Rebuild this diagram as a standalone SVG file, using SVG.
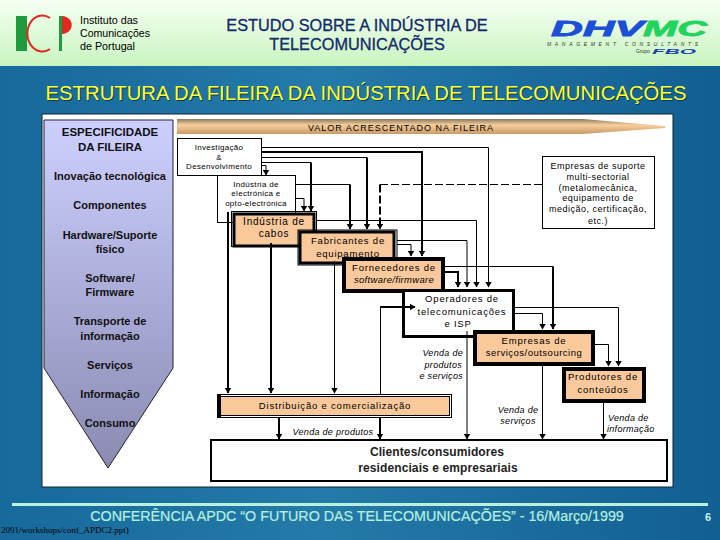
<svg xmlns="http://www.w3.org/2000/svg" width="720" height="540" viewBox="0 0 720 540">
<defs>
<linearGradient id="bg" x1="0" y1="0" x2="1" y2="0"><stop offset="0" stop-color="#176a9c"/><stop offset=".45" stop-color="#247aa8"/><stop offset="1" stop-color="#125f92"/></linearGradient>
<linearGradient id="hd" x1="0" y1="0" x2="0" y2="1"><stop offset="0" stop-color="#f6fff2"/><stop offset="1" stop-color="#c8f4c0"/></linearGradient>
<linearGradient id="sh" x1="0" y1="0" x2="0" y2="1"><stop offset="0" stop-color="#cdd0ff"/><stop offset="1" stop-color="#8a8ab2"/></linearGradient>
<linearGradient id="ban" x1="0" y1="0" x2="0" y2="1"><stop offset="0" stop-color="#8a7a60"/><stop offset=".4" stop-color="#f8cf9c"/><stop offset="1" stop-color="#c89a68"/></linearGradient>
<marker id="a" markerUnits="userSpaceOnUse" markerWidth="6" markerHeight="7" refX="5.500" refY="3.500" orient="auto"><path d="M0 0L6 3.500L0 7Z" fill="#000"/></marker>
</defs>
<style>
text{font-family:"Liberation Sans",Arial,sans-serif;fill:#000;text-anchor:middle}
.l{font-size:11px;font-weight:bold;fill:#111}
.s{font-size:8px;letter-spacing:.3px}
.m{font-size:9.5px;letter-spacing:.8px}
.i{font-size:9px;font-style:italic;letter-spacing:.3px}
.t{fill:none;stroke:#000;stroke-width:1}
.k{fill:none;stroke:#000;stroke-width:2}
.ta{fill:none;stroke:#000;stroke-width:1;marker-end:url(#a)}
.ka{fill:none;stroke:#000;stroke-width:2;marker-end:url(#a)}
.or{fill:#fac99b;stroke:#000}
.wh{fill:#fff;stroke:#000}
</style>
<rect width="720" height="540" fill="url(#bg)"/>
<rect width="720" height="66" fill="url(#hd)"/>

<g id="logo-icp">
<rect x="16" y="16" width="11" height="35" fill="#1f9a3c"/>
<path d="M50 18A15 18 0 1 0 50 49" fill="none" stroke="#e02a20" stroke-width="2"/>
<rect x="59" y="16" width="3" height="35" fill="#1f9a3c"/>
<path d="M62 16C75 17 75 33 62 34Z" fill="#e02a20"/>
<text x="80" y="24" font-size="11.5" textLength="58" lengthAdjust="spacingAndGlyphs" style="text-anchor:start" fill="#222">Instituto das</text>
<text x="80" y="37" font-size="11.5" textLength="70" lengthAdjust="spacingAndGlyphs" style="text-anchor:start" fill="#222">Comunicações</text>
<text x="80" y="50" font-size="11.5" textLength="55" lengthAdjust="spacingAndGlyphs" style="text-anchor:start" fill="#222">de Portugal</text>
</g>
<g id="header-title">
<text x="357" y="31" font-size="16.300" style="fill:#14296a;stroke:#14296a;stroke-width:.3">ESTUDO SOBRE A INDÚSTRIA DE</text>
<text x="357" y="50" font-size="16.300" style="fill:#14296a;stroke:#14296a;stroke-width:.3">TELECOMUNICAÇÕES</text>
</g>
<g id="logo-dhvmc">
<text x="551" y="36" font-size="22" font-weight="bold" font-style="italic" textLength="93" lengthAdjust="spacingAndGlyphs" style="text-anchor:start;fill:#1a4fd6;stroke:#1a4fd6;stroke-width:.8">DHV</text>
<text x="643" y="36" font-size="22" font-weight="bold" font-style="italic" textLength="64" lengthAdjust="spacingAndGlyphs" style="text-anchor:start;fill:#22d45c;stroke:#22d45c;stroke-width:.8">MC</text>
<text x="547" y="45.500" font-size="5" font-style="italic" textLength="151" style="text-anchor:start;fill:#333">MANAGEMENT CONSULTANTS</text>
<text x="636" y="53" font-size="5" style="text-anchor:start;fill:#333">Grupo</text>
<text x="652" y="54" font-size="7" font-weight="bold" font-style="italic" textLength="44" lengthAdjust="spacingAndGlyphs" style="text-anchor:start;fill:#1a3fb0">FBO</text>
</g>
<text x="366" y="100" font-size="20.300" style="fill:#0a3a50" transform="translate(1,1)">ESTRUTURA DA FILEIRA DA INDÚSTRIA DE TELECOMUNICAÇÕES</text>
<text x="366" y="100" font-size="20.300" style="fill:#ffff30">ESTRUTURA DA FILEIRA DA INDÚSTRIA DE TELECOMUNICAÇÕES</text>

<rect x="42" y="114" width="631" height="373" fill="#fff" stroke="#123" stroke-width="1"/>

<g id="specificity">
<path d="M44 120H173V368L108 468L44 368Z" fill="url(#sh)" stroke="#223" stroke-width="1"/>
<text class="l" x="110" y="136" style="font-size:11.5px">ESPECIFICIDADE</text>
<text class="l" x="110" y="151" style="font-size:11.5px">DA FILEIRA</text>
<text class="l" x="110" y="180">Inovação tecnológica</text>
<text class="l" x="110" y="209">Componentes</text>
<text class="l" x="110" y="239">Hardware/Suporte</text>
<text class="l" x="110" y="253">físico</text>
<text class="l" x="110" y="282">Software/</text>
<text class="l" x="110" y="296">Firmware</text>
<text class="l" x="110" y="325">Transporte de</text>
<text class="l" x="110" y="340">informação</text>
<text class="l" x="110" y="369">Serviços</text>
<text class="l" x="110" y="398">Informação</text>
<text class="l" x="110" y="427">Consumo</text>
</g>
<g id="value-banner">
<path d="M177 119H583L665 126V128L583 134H177Z" fill="url(#ban)"/>
<text x="401" y="131" font-size="9" style="letter-spacing:1px">VALOR ACRESCENTADO NA FILEIRA</text>
</g>

<g id="n-electronica">
<rect class="wh" x="217.500" y="175.500" width="78" height="47"/>
<text class="s" x="256" y="187">Indústria de</text>
<text class="s" x="256" y="196">electrónica e</text>
<text class="s" x="256" y="206">opto-electrónica</text>
</g>
<g id="n-id">
<rect class="wh" x="177.500" y="138.500" width="84" height="37"/>
<text class="s" x="219" y="150">Investigação</text>
<text class="s" x="219" y="160">&amp;</text>
<text class="s" x="219" y="169">Desenvolvimento</text>
</g>
<g id="n-cabos">
<rect x="231.500" y="211.500" width="85" height="35" fill="none" stroke="#000"/>
<rect class="or" x="234" y="214" width="80" height="32" stroke-width="3"/>
<text class="m" x="274" y="225" style="font-size:10px">Indústria de</text>
<text class="m" x="274" y="237" style="font-size:10px">cabos</text>
</g>
<g id="n-fabricantes">
<rect x="298" y="230" width="99" height="35" fill="none" stroke="#000"/>
<rect class="or" x="300" y="232" width="94" height="31" stroke-width="3"/>
<text class="m" x="348" y="244">Fabricantes de</text>
<text class="m" x="348" y="257">equipamento</text>
</g>
<g id="n-fornecedores">
<rect class="or" x="344" y="259" width="99" height="32" stroke-width="4"/>
<text class="m" x="394" y="271">Fornecedores de</text>
<text class="m" x="394" y="283" style="font-style:italic;letter-spacing:.3px">software/firmware</text>
</g>
<g id="n-operadores">
<rect class="wh" x="403.500" y="290.500" width="110" height="46" stroke-width="3"/>
<text class="m" x="462" y="302">Operadores de</text>
<text class="m" x="462" y="315">telecomunicações</text>
<text class="m" x="458" y="327">e ISP</text>
</g>
<g id="n-servicos">
<rect class="or" x="475" y="332" width="118" height="32" stroke-width="4"/>
<text class="m" x="534" y="344">Empresas de</text>
<text class="m" x="534" y="356" style="letter-spacing:.5px">serviços/outsourcing</text>
</g>
<g id="n-produtores">
<rect class="or" x="564" y="369" width="80" height="32" stroke-width="4"/>
<text class="m" x="603" y="380">Produtores de</text>
<text class="m" x="603" y="393">conteúdos</text>
</g>
<g id="n-distribuicao">
<rect x="217.500" y="394.500" width="234" height="23" fill="none" stroke="#000"/>
<rect class="or" x="220" y="396.500" width="229.500" height="19" stroke-width="1"/>
<rect x="218" y="395" width="3" height="22" fill="#000"/>
<text class="m" x="335" y="409">Distribuição e comercialização</text>
</g>
<g id="n-clientes">
<rect class="wh" x="211" y="440" width="456" height="41" stroke-width="2"/>
<text x="437" y="456" font-size="12" font-weight="bold" style="letter-spacing:.1px;fill:#222">Clientes/consumidores</text>
<text x="438" y="472" font-size="12" font-weight="bold" style="letter-spacing:.1px;fill:#222">residenciais e empresariais</text>
</g>
<g id="n-suporte">
<rect class="wh" x="542.500" y="156.500" width="112" height="72"/>
<text x="598" y="169" font-size="9" style="letter-spacing:.5px">Empresas de suporte</text>
<text x="598" y="180" font-size="9" style="letter-spacing:.5px">multi-sectorial</text>
<text x="598" y="191" font-size="9" style="letter-spacing:.5px">(metalomecânica,</text>
<text x="598" y="201" font-size="9" style="letter-spacing:.5px">equipamento de</text>
<text x="598" y="212" font-size="9" style="letter-spacing:.5px">medição, certificação,</text>
<text x="598" y="224" font-size="9" style="letter-spacing:.5px">etc.)</text>
</g>

<g id="connectors">
<path class="ta" d="M261 147.500H488.500V287"/>
<path class="ka" d="M261 152H422V256"/>
<path class="t" d="M261 157.500H367"/>
<path class="ka" d="M367 157.500V229"/>
<path class="t" d="M261 162.500H311"/>
<path class="ka" d="M311 162.500V211"/>
<path class="ta" d="M261 165.500H266V175"/>
<path class="t" d="M295 184.500H350"/>
<path class="ka" d="M350 184.500V229"/>
<path class="ta" d="M295 198.500H304V211"/>
<path d="M542 184.500H380" fill="none" stroke="#000" stroke-dasharray="8 3"/>
<path class="ka" d="M380 184.500V229" stroke-dasharray="8 3"/>
<path class="ta" d="M316 220.500H476.500V287"/>
<path class="ta" d="M397 240.500H467V287"/>
<path class="ta" d="M397 244.500H411V256"/>
<path class="t" d="M445 266.500H553"/>
<path class="ka" d="M553 266.500V329"/>
<path class="ka" d="M445 272H458V287"/>
<path class="ta" d="M515 307.500H618.500V366"/>
<path class="ta" d="M515 313.500H542.500V329"/>
<path class="ta" d="M595 344.500H608.500V366"/>
<path class="ka" d="M228 212V393"/>
<path class="ka" d="M271 243V393"/>
<path class="ta" d="M334.500 261V393"/>
<path class="t" d="M380.500 394V307"/>
<path class="ka" d="M380 307H415"/>
<path class="ka" d="M279 418V439"/>
<path class="ka" d="M380 418V439"/>
<path class="ta" d="M467 331V439"/>
<path class="ta" d="M542.500 366V439"/>
<path class="ta" d="M603.500 403V439"/>
</g>

<g id="edge-labels">
<text class="i" x="463" y="356" style="text-anchor:end">Venda de</text>
<text class="i" x="462" y="368" style="text-anchor:end">produtos</text>
<text class="i" x="463" y="379" style="text-anchor:end">e serviços</text>
<text class="i" x="333" y="435">Venda de produtos</text>
<text class="i" x="518" y="413">Venda de</text>
<text class="i" x="518" y="424">serviços</text>
<text class="i" x="608" y="421" style="text-anchor:start">Venda de</text>
<text class="i" x="607" y="432" style="text-anchor:start">informação</text>
</g>

<rect x="12" y="503" width="696" height="3" fill="#b8f2dc"/>
<text x="357" y="521" font-size="14.300" style="fill:#b4f0e0;stroke:#b4f0e0;stroke-width:.2">CONFERÊNCIA APDC “O FUTURO DAS TELECOMUNICAÇÕES” - 16/Março/1999</text>
<text x="708" y="521" font-size="11" font-weight="bold" style="fill:#cfeee6">6</text>
<text x="1" y="533" font-size="9" style="font-family:'Liberation Serif',serif;text-anchor:start">2091/workshops/conf_APDC2.ppt)</text>
</svg>
